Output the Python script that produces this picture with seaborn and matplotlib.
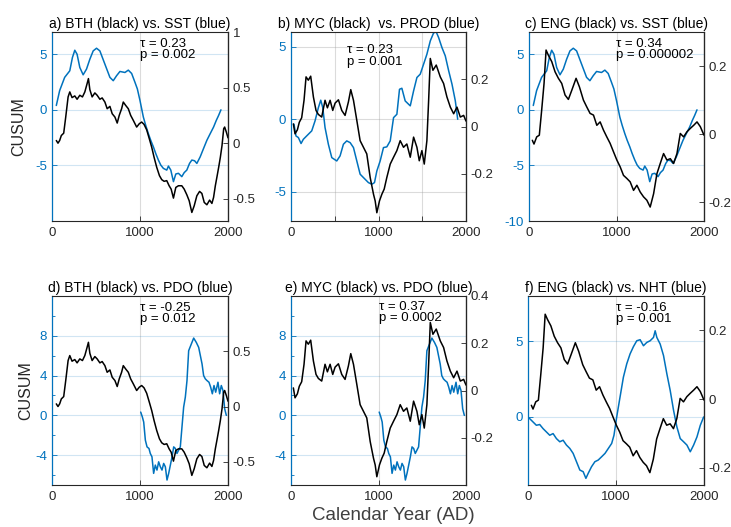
import numpy as np
import pandas as pd
import matplotlib
matplotlib.use("Agg")
import matplotlib.pyplot as plt
import matplotlib.transforms as mtransforms
from matplotlib.ticker import MultipleLocator
import seaborn as sns

# ---------------- CUSUM series (year AD, value) ----------------
# Sea surface temperature (left axis, CUSUM)
sst_year = [49, 87, 144, 202, 232, 259, 285, 316, 354, 392, 430, 468, 506, 544, 601, 658,
            696, 734, 772, 829, 867, 905, 943, 970, 1000, 1038, 1065, 1095, 1122, 1152,
            1179, 1209, 1236, 1266, 1304, 1323, 1350, 1380, 1407, 1437, 1475, 1502, 1532,
            1563, 1589, 1620, 1646, 1684, 1722, 1760, 1798, 1836, 1867, 1893, 1920]
sst_val = [0.39, 1.73, 2.92, 3.51, 4.70, 5.36, 5.0, 3.81, 3.15, 3.66, 4.55, 5.30, 5.54,
           5.30, 4.11, 2.92, 2.62, 3.07, 3.45, 3.36, 3.57, 3.27, 2.47, 1.88, 0.83, -0.65,
           -1.40, -2.14, -2.74, -3.33, -3.93, -4.52, -4.97, -5.27, -5.42, -5.06, -5.42,
           -6.46, -5.77, -5.71, -6.01, -5.65, -5.42, -4.82, -4.52, -4.58, -4.82, -4.23,
           -3.48, -2.74, -2.14, -1.55, -0.95, -0.51, 0.0]

# Productivity (left axis, CUSUM)
prod_year = [34, 57, 84, 115, 141, 179, 237, 275, 313, 340, 363, 389, 427, 466, 523, 561,
             599, 637, 676, 714, 752, 790, 847, 885, 924, 954, 981, 1019, 1057, 1095, 1134,
             1172, 1210, 1240, 1267, 1305, 1344, 1363, 1401, 1439, 1477, 1515, 1553, 1592,
             1630, 1660, 1687, 1725, 1763, 1802, 1840, 1878, 1905]
prod_val = [-0.34, -1.15, -1.26, -1.67, -1.38, -1.15, -0.80, -0.11, 0.80, 1.31, 0.80,
            -0.57, -1.72, -2.64, -2.87, -2.52, -1.72, -1.49, -1.61, -1.95, -2.87, -3.78,
            -4.13, -4.36, -4.47, -4.36, -3.56, -2.87, -1.95, -1.90, -1.49, 0.11, 0.34,
            2.06, 2.13, 1.26, 1.03, 0.92, 1.95, 2.87, 3.10, 3.78, 4.47, 5.39, 5.94, 6.0,
            5.62, 4.93, 4.36, 3.33, 2.41, 1.26, 0.0]

# Pacific Decadal Oscillation (left axis, CUSUM)
pdo_year = [1008, 1027, 1042, 1061, 1080, 1102, 1117, 1136, 1155, 1174, 1193, 1212, 1231,
            1250, 1269, 1288, 1307, 1326, 1345, 1364, 1383, 1402, 1420, 1439, 1458, 1477,
            1496, 1515, 1534, 1553, 1583, 1610, 1640, 1667, 1686, 1705, 1723, 1742, 1761,
            1784, 1803, 1822, 1841, 1860, 1886, 1905, 1924, 1943, 1962, 1981]
pdo_val = [0.33, -0.17, -0.67, -2.5, -3.17, -3.33, -3.83, -4.17, -5.83, -5.0, -5.5, -4.67,
           -5.17, -5.5, -4.83, -5.17, -6.5, -5.83, -5.0, -4.17, -3.17, -3.33, -3.83, -3.5,
           -3.17, -1.17, 0.83, 1.83, 3.5, 6.5, 7.17, 7.77, 7.33, 6.83, 6.0, 5.17, 4.0,
           3.67, 3.5, 3.33, 2.83, 2.17, 3.0, 2.33, 3.33, 2.17, 3.0, 2.5, 0.67, 0.0]

# Northern Hemisphere temperature (left axis, CUSUM)
nht_year = [0, 57, 95, 133, 171, 209, 247, 285, 323, 361, 399, 437, 475, 513, 551, 589,
            627, 658, 684, 722, 760, 798, 837, 875, 913, 951, 977, 1008, 1046, 1084, 1122,
            1160, 1198, 1236, 1274, 1312, 1350, 1388, 1426, 1445, 1464, 1502, 1540, 1578,
            1616, 1654, 1692, 1730, 1768, 1806, 1844, 1882, 1920, 1958, 1996]
nht_val = [0.0, -0.33, -0.55, -0.50, -0.77, -0.99, -1.21, -1.10, -1.43, -1.64, -1.54,
           -1.86, -2.08, -2.41, -2.96, -3.51, -3.62, -4.06, -3.73, -3.29, -2.96, -2.85,
           -2.63, -2.41, -2.08, -1.75, -1.21, 0.0, 1.32, 2.63, 3.51, 4.17, 4.65, 5.04,
           5.11, 4.71, 4.93, 5.04, 5.26, 5.70, 5.26, 4.82, 4.06, 2.85, 1.75, 0.44, -0.66,
           -1.43, -1.64, -1.86, -2.30, -1.86, -1.32, -0.55, 0.0]

# BTH record (right axis)
bth_year = [49, 68, 87, 106, 133, 156, 183, 202, 228, 259, 285, 316, 346, 373, 399, 414,
            430, 456, 487, 513, 544, 570, 601, 627, 658, 684, 715, 741, 764, 791, 810, 837,
            867, 894, 924, 962, 992, 1019, 1046, 1076, 1106, 1133, 1160, 1190, 1221, 1247,
            1274, 1304, 1331, 1354, 1380, 1407, 1437, 1475, 1502, 1532, 1559, 1589, 1616,
            1646, 1677, 1703, 1730, 1760, 1791, 1817, 1836, 1856, 1875, 1894, 1913, 1932,
            1951, 1962, 1981, 2000]
bth_val = [0.024, 0.0, 0.024, 0.069, 0.09, 0.235, 0.416, 0.461, 0.41, 0.425, 0.395, 0.431,
           0.416, 0.461, 0.536, 0.581, 0.482, 0.416, 0.452, 0.431, 0.395, 0.407, 0.370,
           0.31, 0.331, 0.265, 0.235, 0.181, 0.25, 0.31, 0.370, 0.340, 0.31, 0.25, 0.205,
           0.145, 0.175, 0.19, 0.169, 0.12, 0.039, -0.036, -0.127, -0.217, -0.292, -0.328,
           -0.343, -0.337, -0.383, -0.413, -0.494, -0.398, -0.383, -0.383, -0.413, -0.464,
           -0.518, -0.623, -0.563, -0.473, -0.434, -0.452, -0.533, -0.554, -0.512, -0.542,
           -0.488, -0.383, -0.301, -0.217, -0.127, -0.021, 0.13, 0.145, 0.10, 0.048]

# MYC record (right axis)
myc_year = [27, 46, 73, 95, 122, 149, 172, 198, 225, 256, 286, 313, 351, 389, 416, 447,
            477, 504, 542, 580, 618, 656, 683, 714, 752, 790, 828, 866, 905, 943, 962, 981,
            1011, 1038, 1065, 1095, 1134, 1172, 1210, 1248, 1286, 1324, 1363, 1401, 1439,
            1466, 1496, 1523, 1553, 1573, 1592, 1622, 1660, 1706, 1744, 1782, 1821, 1859,
            1897, 1935, 1973, 2000]
myc_val = [0.011, -0.031, -0.014, 0.018, 0.037, 0.111, 0.210, 0.196, 0.213, 0.125, 0.068,
           0.051, 0.040, 0.111, 0.079, 0.111, 0.068, 0.099, 0.113, 0.068, 0.047, 0.104,
           0.156, 0.111, 0.026, -0.060, -0.088, -0.116, -0.216, -0.287, -0.315, -0.365,
           -0.315, -0.287, -0.265, -0.216, -0.159, -0.130, -0.102, -0.060, -0.088, -0.074,
           -0.130, -0.045, -0.088, -0.145, -0.102, -0.159, -0.060, 0.111, 0.288, 0.238,
           0.260, 0.210, 0.182, 0.125, 0.082, 0.054, 0.082, 0.040, 0.047, 0.023]

# ENG record (right axis)
eng_year = [38, 57, 88, 118, 145, 172, 195, 221, 260, 298, 336, 374, 412, 450, 489, 538,
            576, 622, 660, 698, 737, 775, 813, 851, 889, 927, 966, 1004, 1042, 1080, 1118,
            1156, 1195, 1233, 1271, 1309, 1347, 1385, 1424, 1462, 1500, 1538, 1576, 1615,
            1653, 1691, 1729, 1767, 1805, 1844, 1882, 1920, 1958, 2000]
eng_val = [-0.018, -0.029, -0.008, -0.003, 0.071, 0.149, 0.247, 0.232, 0.213, 0.183,
           0.164, 0.149, 0.115, 0.102, 0.129, 0.164, 0.139, 0.10, 0.080, 0.061, 0.056,
           0.026, 0.036, 0.012, -0.008, -0.027, -0.052, -0.076, -0.096, -0.121, -0.130,
           -0.140, -0.165, -0.150, -0.170, -0.184, -0.194, -0.214, -0.175, -0.116, -0.086,
           -0.057, -0.076, -0.072, -0.086, -0.057, 0.002, -0.008, 0.007, 0.017, 0.026,
           0.036, 0.022, -0.003]

# Panel titles and Kendall statistics
titles = ["a) BTH (black) vs. SST (blue)", "b) MYC (black)  vs. PROD (blue)",
          "c) ENG (black) vs. SST (blue)", "d) BTH (black) vs. PDO (blue)",
          "e) MYC (black) vs. PDO (blue)", "f) ENG (black) vs. NHT (blue)"]
tau_text = ["τ = 0.23\np = 0.002", "τ = 0.23\np = 0.001", "τ = 0.34\np = 0.000002",
            "τ = -0.25\np = 0.012", "τ = 0.37\np = 0.0002", "τ = -0.16\np = 0.001"]

# ---------------- styling ----------------
sns.set_style("white")
plt.rcParams["font.family"] = ["Liberation Sans", "DejaVu Sans"]

BLUE = "#0072BD"
DARK = "#262626"
FS = 9.5

W, H = 731, 527
fig = plt.figure(figsize=(W / 100, H / 100), dpi=100)


def px_axes(left, top, right, bottom):
    return fig.add_axes([left / W, 1 - bottom / H, (right - left) / W, (bottom - top) / H])


panels = [
    dict(box=(52, 32, 228, 221), blue=(sst_year, sst_val), black=(bth_year, bth_val),
         ylim=(-10, 7), yticks=[-5, 0, 5], minor=None,
         rlim=(-0.7, 1.0), rticks=[-0.5, 0, 0.5, 1], rlabels=["-0.5", "0", "0.5", "1"],
         xticks=[0, 1000, 2000], grid_gray=False, tx=1000, ty=0.97),
    dict(box=(291, 32, 466, 221), blue=(prod_year, prod_val), black=(myc_year, myc_val),
         ylim=(-7, 6), yticks=[-5, 0, 5], minor=None,
         rlim=(-0.4, 0.4), rticks=[-0.2, 0, 0.2], rlabels=["-0.2", "0", "0.2"],
         xticks=[0, 500, 1000, 1500, 2000], grid_gray=True, tx=640, ty=0.935),
    dict(box=(529, 32, 704, 221), blue=(sst_year, sst_val), black=(eng_year, eng_val),
         ylim=(-10, 7), yticks=[-10, -5, 0, 5], minor=None,
         rlim=(-0.255, 0.3), rticks=[-0.2, 0, 0.2], rlabels=["-0.2", "0", "0.2"],
         xticks=[0, 1000, 2000], grid_gray=False, tx=1000, ty=0.97),
    dict(box=(52, 296, 228, 485), blue=(pdo_year, pdo_val), black=(bth_year, bth_val),
         ylim=(-7, 12), yticks=[-4, 0, 4, 8], minor=2,
         rlim=(-0.71, 1.0), rticks=[-0.5, 0, 0.5], rlabels=["-0.5", "0", "0.5"],
         xticks=[0, 1000, 2000], grid_gray=False, tx=1000, ty=0.97),
    dict(box=(291, 296, 466, 485), blue=(pdo_year, pdo_val), black=(myc_year, myc_val),
         ylim=(-7, 12), yticks=[-4, 0, 4, 8], minor=2,
         rlim=(-0.4, 0.4), rticks=[-0.2, 0, 0.2, 0.4], rlabels=["-0.2", "0", "0.2", "0.4"],
         xticks=[0, 1000, 2000], grid_gray=False, tx=1000, ty=0.975),
    dict(box=(528, 296, 704, 485), blue=(nht_year, nht_val), black=(eng_year, eng_val),
         ylim=(-4.5, 8), yticks=[0, 5], minor=None,
         rlim=(-0.25, 0.3), rticks=[-0.2, 0, 0.2], rlabels=["-0.2", "0", "0.2"],
         xticks=[0, 1000, 2000], grid_gray=False, tx=1000, ty=0.97),
]

for i, p in enumerate(panels):
    ax = px_axes(*p["box"])
    by, bv = p["blue"]
    sns.lineplot(x=by, y=bv, ax=ax, color=BLUE, lw=1.1)
    ax.set_xlim(0, 2000)
    ax.set_ylim(*p["ylim"])
    ax.set_xticks(p["xticks"])
    ax.set_xticklabels([str(t) if t % 1000 == 0 else "" for t in p["xticks"]])
    ax.set_yticks(p["yticks"])
    ax.set_yticklabels([str(t) for t in p["yticks"]])
    if p["minor"]:
        ax.yaxis.set_minor_locator(MultipleLocator(p["minor"]))
    ax.set_xlabel("")
    ax.set_ylabel("")

    # grid: horizontal lines follow the left axis colour, vertical lines are grey
    hcol = "#9a9a9a" if p["grid_gray"] else BLUE
    halpha = 0.35 if p["grid_gray"] else 0.18
    ax.grid(False)
    ax.yaxis.grid(True, color=hcol, alpha=halpha, lw=0.8)
    ax.xaxis.grid(True, color="#9a9a9a", alpha=0.35, lw=0.8)
    ax.set_axisbelow(True)

    ax.tick_params(axis="y", which="both", direction="in", colors=BLUE,
                   labelsize=FS, length=3.5, width=0.6, pad=3.5, right=False, left=True)
    ax.tick_params(axis="y", which="minor", length=2)
    ax.tick_params(axis="x", direction="in", colors=DARK, labelsize=FS,
                   length=3.5, width=0.6, pad=4, top=False, bottom=True)
    for side in ["top", "bottom", "right"]:
        ax.spines[side].set_color(DARK)
        ax.spines[side].set_linewidth(0.8)
    ax.spines["left"].set_color(BLUE)
    ax.spines["left"].set_linewidth(0.9)

    ax.set_title(titles[i], fontsize=FS + 0.5, color="black", pad=3)

    ax2 = ax.twinx()
    ky, kv = p["black"]
    sns.lineplot(x=ky, y=kv, ax=ax2, color="black", lw=1.1)
    ax2.set_xlim(0, 2000)
    ax2.set_ylim(*p["rlim"])
    ax2.set_yticks(p["rticks"])
    ax2.set_yticklabels(p["rlabels"])
    ax2.set_ylabel("")
    ax2.tick_params(axis="y", direction="in", colors=DARK, labelsize=FS,
                    length=3.5, width=0.6, pad=3.5)
    ax2.spines["right"].set_color(DARK)
    ax2.spines["right"].set_linewidth(0.9)
    for side in ["top", "bottom", "left"]:
        ax2.spines[side].set_visible(False)

    trans = mtransforms.blended_transform_factory(ax.transData, ax.transAxes)
    ax2.text(p["tx"], p["ty"], tau_text[i], transform=trans, ha="left", va="top",
             fontsize=FS, color="black", linespacing=0.95, zorder=10)

# shared labels
fig.text(19 / W, 1 - 126.5 / H, "CUSUM", rotation=90, ha="center", va="center",
         fontsize=11.5, color=DARK)
fig.text(26 / W, 1 - 390.5 / H, "CUSUM", rotation=90, ha="center", va="center",
         fontsize=11.5, color=DARK)
fig.text(393 / W, 1 - 515 / H, "Calendar Year (AD)", ha="center", va="center",
         fontsize=13.5, color="#404040")

fig.savefig("out.png", dpi=100)
